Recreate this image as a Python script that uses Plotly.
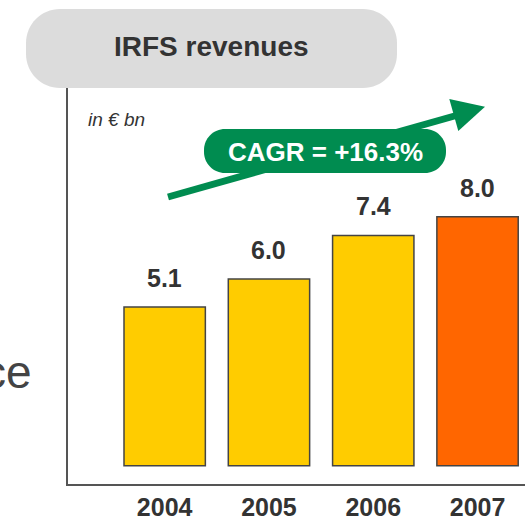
import plotly.graph_objects as go

# ---- data ----
years = ["2004", "2005", "2006", "2007"]
revenues = [5.1, 6.0, 7.4, 8.0]
highlight_year = "2007"

title_text = "IRFS revenues"
unit_text = "in € bn"
cagr_text = "CAGR = +16.3%"
side_text = "ce"

# ---- styles ----
W, H = 525, 520
PL, PR, PT, PB = 68, 525, 88, 484
YELLOW = "#FFCC00"
ORANGE = "#FF6600"
GREEN = "#008C50"
GREY_PILL = "#DCDCDC"
TXT = "#333333"
SANS = "Liberation Sans, Arial, sans-serif"


def fx(px):
    return (px - PL) / (PR - PL)


def fy(py):
    return (PB - py) / (PB - PT)


def pt(x, y):
    return f"{fx(x):.5f},{fy(y):.5f}"


def rounded_rect(x0, y0, x1, y1, r):
    k = 0.5523 * r
    p = [f"M {pt(x0 + r, y0)}", f"L {pt(x1 - r, y0)}",
         f"C {pt(x1 - r + k, y0)} {pt(x1, y0 + r - k)} {pt(x1, y0 + r)}",
         f"L {pt(x1, y1 - r)}",
         f"C {pt(x1, y1 - r + k)} {pt(x1 - r + k, y1)} {pt(x1 - r, y1)}",
         f"L {pt(x0 + r, y1)}",
         f"C {pt(x0 + r - k, y1)} {pt(x0, y1 - r + k)} {pt(x0, y1 - r)}",
         f"L {pt(x0, y0 + r)}",
         f"C {pt(x0, y0 + r - k)} {pt(x0 + r - k, y0)} {pt(x0 + r, y0)}", "Z"]
    return " ".join(p)


xs = list(range(len(years)))
colors = [ORANGE if y == highlight_year else YELLOW for y in years]

fig = go.Figure()
fig.add_trace(go.Bar(
    x=xs, y=revenues, width=0.78,
    marker=dict(color=colors, line=dict(color="#444444", width=1.5)),
    hoverinfo="skip",
))

# value labels
for xi, v in zip(xs, revenues):
    fig.add_annotation(x=xi, y=v, xref="x", yref="y", text=f"<b>{v:.1f}</b>",
                       showarrow=False, xanchor="center", yanchor="bottom",
                       yshift=13, font=dict(family=SANS, size=25, color=TXT))

shapes = []
# title pill
shapes.append(dict(type="path", xref="paper", yref="paper",
                   path=rounded_rect(26, 9, 397, 88, 34),
                   fillcolor=GREY_PILL, line=dict(width=0), layer="above"))
# arrow shaft
shapes.append(dict(type="line", xref="paper", yref="paper",
                   x0=fx(168), y0=fy(197), x1=fx(458), y1=fy(115),
                   line=dict(color=GREEN, width=7), layer="above"))
# arrow head
shapes.append(dict(type="path", xref="paper", yref="paper",
                   path=f"M {pt(485, 106.7)} L {pt(449.3, 99)} L {pt(458.3, 131)} Z",
                   fillcolor=GREEN, line=dict(width=0), layer="above"))
# CAGR pill
shapes.append(dict(type="path", xref="paper", yref="paper",
                   path=rounded_rect(204, 129, 446, 173, 21),
                   fillcolor=GREEN, line=dict(width=0), layer="above"))

fig.add_annotation(x=fx(211), y=fy(47), xref="paper", yref="paper",
                   text=f"<b>{title_text}</b>", showarrow=False,
                   xanchor="center", yanchor="middle",
                   font=dict(family=SANS, size=28, color=TXT))
fig.add_annotation(x=fx(86), y=fy(120), xref="paper", yref="paper",
                   text=f"<i>{unit_text}</i>", showarrow=False,
                   xanchor="left", yanchor="middle",
                   font=dict(family=SANS, size=19, color=TXT))
fig.add_annotation(x=fx(325), y=fy(152), xref="paper", yref="paper",
                   text=f"<b>{cagr_text}</b>", showarrow=False,
                   xanchor="center", yanchor="middle",
                   font=dict(family=SANS, size=26, color="white"))
fig.add_annotation(x=fx(34), y=fy(372), xref="paper", yref="paper",
                   text=side_text, showarrow=False,
                   xanchor="right", yanchor="middle",
                   font=dict(family=SANS, size=46, color="#444444"))

fig.update_layout(
    width=W, height=H,
    margin=dict(l=PL, r=W - PR, t=PT, b=H - PB, pad=0),
    paper_bgcolor="white", plot_bgcolor="white",
    showlegend=False, shapes=shapes,
)
fig.update_xaxes(range=[-0.927, 3.455], tickvals=xs, ticktext=[f"<b>{y}</b>" for y in years],
                 showline=True, linecolor="#555555", linewidth=1.5,
                 showgrid=False, zeroline=False, ticks="",
                 tickfont=dict(family=SANS, size=25, color=TXT))
fig.update_yaxes(range=[-0.59, 12.14], showline=True, linecolor="#555555",
                 linewidth=1.5, showgrid=False, zeroline=False,
                 showticklabels=False, ticks="")

fig.write_html("out.html", config={"displayModeBar": False},
               post_script="document.body.style.margin='0';document.body.style.overflow='hidden';")
